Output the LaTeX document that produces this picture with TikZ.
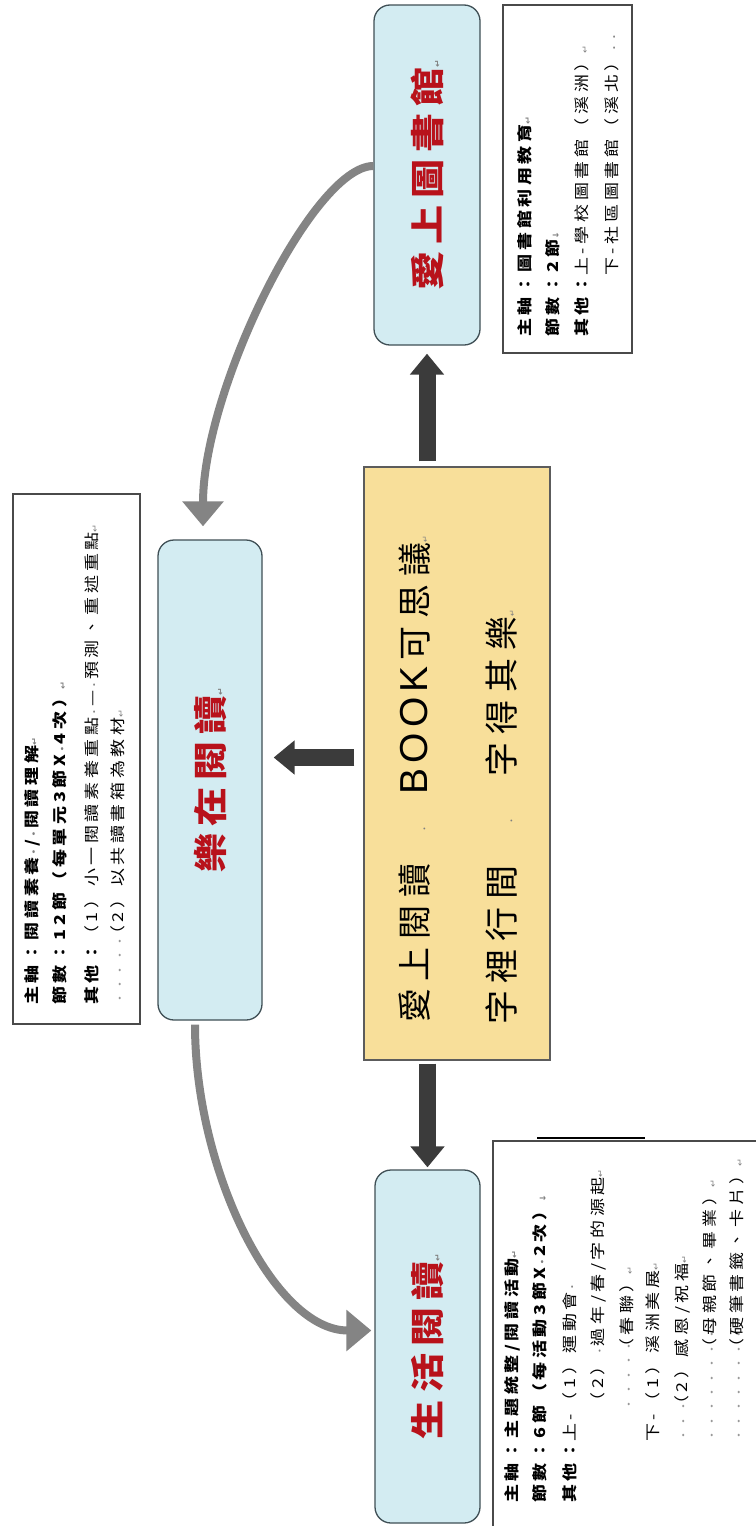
\documentclass[tikz,border=0pt]{standalone}
\usepackage{fontspec}
\usepackage{graphicx}
\usetikzlibrary{arrows.meta}
\newfontfamily\notefont{Noto Sans CJK TC}[LetterSpace=20]
\newfontfamily\titlefont{Noto Sans CJK TC}[LetterSpace=18]
\newfontfamily\cenfont{Noto Sans CJK TC}[LetterSpace=23]
\newfontfamily\bookfont{Liberation Sans}[LetterSpace=13]
\newfontfamily\symf{DejaVu Sans}
\definecolor{tboxfill}{HTML}{D3ECF2}
\definecolor{tboxdraw}{HTML}{3F4F55}
\definecolor{titlered}{HTML}{B8121B}
\definecolor{yel}{HTML}{F8DF9A}
\definecolor{yeldraw}{HTML}{5C5C5C}
\definecolor{adark}{HTML}{3B3B3B}
\definecolor{agray}{HTML}{848484}
\definecolor{noteedge}{HTML}{4A4A4A}
\newcommand{\retm}{{\symf\fontsize{8}{8}\selectfont\textcolor{gray}{↵}}}
\newcommand{\dwnm}{{\symf\fontsize{8}{8}\selectfont\textcolor{gray}{↓}}}
\newcommand{\dotc}{{\fontsize{9}{9}\selectfont\textcolor{gray}{·}}}
\newcommand{\dts}[1]{{\fontsize{10}{10}\selectfont\textcolor{gray!80}{#1}}}
\newcommand{\strx}[2]{\scalebox{#1}[1]{#2}}
\begin{document}
\begin{tikzpicture}[x=1pt,y=-1pt,
  tbox/.style={draw=tboxdraw, line width=1.3pt, fill=tboxfill, rounded corners=16pt, inner sep=0pt,
    font=\titlefont\bfseries\fontsize{34}{40}\selectfont, text=titlered},
  ybox/.style={draw=yeldraw, line width=1.2pt, fill=yel, inner sep=0pt},
  nbox/.style={draw=noteedge, line width=1.2pt, inner sep=0pt},
  nline/.style={rotate=90, anchor=west, inner sep=0pt, font=\notefont\fontsize{15}{18}\selectfont},
  cline/.style={rotate=90, anchor=west, inner sep=0pt, font=\cenfont\fontsize{34}{40}\selectfont},
  blk/.style={draw=adark, line width=17pt, -{Triangle[width=33pt,length=21pt]}},
  gcur/.style={draw=agray, line width=8pt, -{Triangle[width=40pt,length=25pt]}}
]
\useasboundingbox (0,0) rectangle (755,1526);
\fill[white] (0,0) rectangle (755,1526);

% main boxes
\node[tbox, minimum width=106pt, minimum height=340pt] (lib) at (427,175) {\rotatebox{90}{\strx{1.15}{愛上圖書館\retm}}};
\node[tbox, minimum width=104pt, minimum height=480pt] (joy) at (210,780) {\rotatebox{90}{\strx{1.15}{樂在閱讀\retm}}};
\node[tbox, minimum width=105pt, minimum height=353pt] (life) at (427.5,1346.5) {\rotatebox{90}{\strx{1.15}{生活閱讀\retm}}};
\node[ybox, minimum width=186pt, minimum height=593pt] (center) at (457,763.5) {};
\node[cline] (c1) at (415,1023) {愛上閱讀\hspace{30pt}\dotc\hspace{30pt}{\bookfont\fontsize{39}{40}\selectfont BOOK}\hspace{6pt}可思議\retm};
\node[cline] (c2) at (502,1025) {字裡行間\hspace{40pt}\dotc\hspace{40pt}字得其樂\retm};

% note boxes
\node[nbox, minimum width=127pt, minimum height=530pt] (nL) at (76.5,759) {};
\node[nbox, minimum width=129pt, minimum height=348pt] (nT) at (567.5,179) {};
\draw[noteedge, line width=1.2pt] (493,1530) -- (493,1141) -- (760,1141);
\draw[black, line width=2pt] (537,1138) -- (645,1138);

% left notes
\node[nline] (l1) at (32,1005) {\strx{1.2}{\bfseries 主軸：閱讀素養\dotc/\dotc 閱讀理解\retm}};
\node[nline] (l2) at (60,1005) {\strx{1.2}{\bfseries 節數：12節（每單元3節X\dotc 4次）\retm}};
\node[nline] (l3) at (92,1005) {\strx{1.2}{{\bfseries 其他：}（1）小一閱讀素養重點\dotc—\dotc 預測、重述重點\retm}};
\node[nline] (l4) at (118,1005) {\strx{1.2}{\rlap{\dts{·····}}\phantom{其他：}（2）以共讀書箱為教材\retm}};

% top-right notes
\node[nline] (t1) at (525,337) {\strx{1.2}{\bfseries 主軸：圖書館利用教育\retm}};
\node[nline] (t2) at (553,337) {\strx{1.2}{\bfseries 節數：2節\dwnm}};
\node[nline] (t3) at (582,337) {\strx{1.2}{{\bfseries 其他：}上-學校圖書館（溪洲）\retm}};
\node[nline] (t4) at (612,337) {\strx{1.2}{\phantom{其他：}下-社區圖書館（溪北）\dotc\dotc}};

% bottom-right notes
\node[nline] (b1) at (512,1503) {\strx{1.2}{\bfseries 主軸：主題統整/閱讀活動\retm}};
\node[nline] (b2) at (540,1503) {\strx{1.2}{\bfseries 節數：6節（每活動3節X\dotc 2次）\dwnm}};
\node[nline] (b3) at (570,1503) {\strx{1.2}{{\bfseries 其他：}上-（1）運動會\dotc}};
\node[nline] (b4) at (598,1503) {\strx{1.2}{\phantom{其他：上-}（2）\dotc 過年/春/字的源起\retm}};
\node[nline] (b5) at (627,1503) {\strx{1.2}{\phantom{其他：上-}\rlap{\dts{·····}}\phantom{（2）}（春聯）\retm}};
\node[nline] (b6) at (653,1503) {\strx{1.2}{\phantom{其他：}下-（1）溪洲美展\retm}};
\node[nline] (b7) at (682,1503) {\strx{1.2}{\phantom{其他：}\rlap{\dts{···}}\phantom{下-}（2）感恩/祝福\retm}};
\node[nline] (b8) at (710,1503) {\strx{1.2}{\phantom{其他：}\rlap{\dts{·········}}\phantom{下-（2）}（母親節、畢業）\retm}};
\node[nline] (b9) at (737,1503) {\strx{1.2}{\phantom{其他：}\rlap{\dts{·········}}\phantom{下-（2）}（硬筆書籤、卡片）\retm}};

% block arrows
\draw[blk, shorten <=5pt, shorten >=8pt] (center.north -| lib.south) -- (lib.south);
\coordinate (la) at ([yshift=6pt]center.west);
\draw[blk, shorten <=9pt, shorten >=11pt] (la) -- (la -| joy.east);
\draw[blk, shorten <=3pt, shorten >=2pt] (center.south -| life.north) -- (life.north);

% curved arrows
\draw[gcur, shorten >=13pt] ([yshift=9pt]lib.west) .. controls +(-60,0) and +(0,-150) .. ([xshift=-7pt]joy.north);
\draw[gcur, shorten <=4pt, shorten >=3pt] ([xshift=-15pt]joy.south) .. controls +(0,150) and +(-100,0) .. ([yshift=16pt]life.west);
\end{tikzpicture}
\end{document}
